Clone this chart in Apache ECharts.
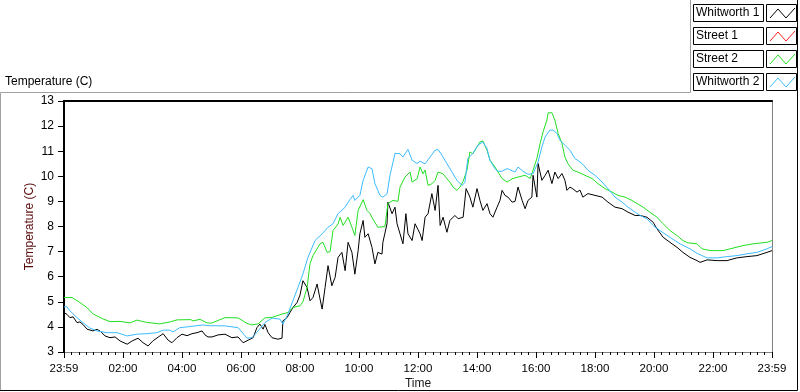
<!DOCTYPE html>
<html>
<head>
<meta charset="utf-8">
<script src="https://cdn.jsdelivr.net/npm/echarts@6/dist/echarts.min.js"></script>
<style>
html,body{margin:0;padding:0;background:#fff}
#chart{width:800px;height:392px}
</style>
</head>
<body>
<div id="chart"></div>
<script>
// hours after 23:59 -> temperature (C)
var seriesNames = ['Whitworth 1', 'Street 1', 'Street 2', 'Whitworth 2'];
var seriesColors = ['#000000', '#ff2020', '#22e022', '#3cbcff'];

var whitworth1 = [[0,4.57],[0.1,4.5],[0.2,4.37],[0.31,4.4],[0.44,4.17],[0.54,4.2],[0.64,4.1],[0.78,3.91],[0.98,3.84],[1.12,3.9],[1.22,3.84],[1.39,3.64],[1.56,3.57],[1.73,3.6],[1.9,3.44],[2.14,3.31],[2.31,3.44],[2.51,3.55],[2.68,3.37],[2.85,3.24],[3.02,3.45],[3.25,3.64],[3.36,3.73],[3.53,3.47],[3.66,3.37],[3.83,3.57],[4.0,3.71],[4.17,3.65],[4.34,3.73],[4.51,3.77],[4.68,3.84],[4.78,3.68],[4.88,3.6],[5.02,3.6],[5.22,3.68],[5.46,3.71],[5.69,3.57],[5.9,3.6],[6.07,3.37],[6.24,3.47],[6.41,3.57],[6.54,3.97],[6.64,4.11],[6.75,3.91],[6.81,4.1],[6.92,3.77],[7.05,3.57],[7.25,3.51],[7.39,3.55],[7.42,4.24],[7.56,4.37],[7.66,4.57],[7.76,4.77],[7.9,4.97],[8.0,5.27],[8.1,5.84],[8.24,5.57],[8.34,5.04],[8.44,5.17],[8.58,5.71],[8.68,5.11],[8.75,4.71],[8.85,5.57],[8.95,6.44],[9.08,5.64],[9.19,5.97],[9.29,6.77],[9.42,6.97],[9.53,6.24],[9.63,7.37],[9.76,6.97],[9.86,6.1],[9.97,7.04],[10.03,7.71],[10.14,8.24],[10.2,7.57],[10.31,7.71],[10.44,7.17],[10.54,6.51],[10.64,6.97],[10.78,6.9],[10.81,7.37],[10.95,8.11],[10.98,8.97],[11.12,8.51],[11.22,8.77],[11.29,8.11],[11.39,7.71],[11.49,7.31],[11.59,8.51],[11.66,7.71],[11.8,7.44],[11.9,8.11],[12.07,7.71],[12.14,7.44],[12.24,8.37],[12.34,8.51],[12.47,9.31],[12.58,8.64],[12.68,9.64],[12.75,8.04],[12.85,8.37],[12.98,7.77],[13.08,8.24],[13.25,8.44],[13.36,8.31],[13.53,8.37],[13.63,9.51],[13.76,9.17],[13.86,8.77],[14.0,9.51],[14.1,9.04],[14.2,8.64],[14.34,8.91],[14.44,8.51],[14.54,8.37],[14.68,8.77],[14.78,9.04],[14.85,9.44],[14.95,9.24],[15.05,9.17],[15.19,8.97],[15.29,9.0],[15.39,9.57],[15.53,9.04],[15.63,8.71],[15.73,9.04],[15.86,9.17],[15.9,10.04],[16.03,9.17],[16.07,10.51],[16.2,9.84],[16.31,10.04],[16.41,10.24],[16.54,9.71],[16.64,10.17],[16.75,9.91],[16.88,10.11],[16.98,9.84],[17.05,9.44],[17.15,9.57],[17.25,9.5],[17.39,9.37],[17.49,9.45],[17.59,9.17],[17.76,9.31],[18.0,9.24],[18.24,9.17],[18.44,8.97],[18.68,8.77],[18.92,8.71],[19.12,8.57],[19.36,8.44],[19.53,8.44],[19.76,8.37],[19.97,8.17],[20.1,7.91],[20.31,7.57],[20.54,7.37],[20.78,7.17],[20.98,6.97],[21.22,6.77],[21.46,6.64],[21.56,6.57],[21.8,6.67],[22.14,6.64],[22.47,6.64],[22.81,6.75],[23.15,6.8],[23.49,6.84],[23.83,6.97],[24,7.04]];

var street1 = [];

var street2 = [[0,5.17],[0.27,5.17],[0.54,4.97],[0.78,4.77],[0.98,4.52],[1.32,4.32],[1.56,4.21],[1.9,4.22],[2.24,4.16],[2.47,4.27],[2.58,4.24],[2.8,4.18],[3.25,4.12],[3.6,4.2],[3.83,4.28],[4.3,4.29],[4.37,4.24],[4.61,4.3],[4.85,4.16],[5.0,4.15],[5.46,4.37],[5.9,4.36],[6.2,4.14],[6.37,4.08],[6.58,4.12],[6.81,4.36],[7.05,4.38],[7.39,4.51],[7.59,4.57],[7.76,4.77],[8.0,4.84],[8.1,5.0],[8.24,5.57],[8.34,6.52],[8.44,6.84],[8.68,7.31],[8.78,7.37],[8.92,6.97],[9.02,7.0],[9.12,7.84],[9.29,8.1],[9.36,8.37],[9.46,8.04],[9.63,8.37],[9.76,7.97],[9.86,7.64],[9.97,8.64],[10.14,9.07],[10.27,8.64],[10.37,8.52],[10.47,8.3],[10.64,7.97],[10.88,8.0],[10.98,8.92],[11.15,9.04],[11.32,9.0],[11.39,9.57],[11.56,9.97],[11.73,10.17],[11.8,9.77],[11.97,9.9],[12.07,10.37],[12.17,10.1],[12.24,10.25],[12.34,9.64],[12.47,9.7],[12.58,9.84],[12.68,10.17],[12.85,10.1],[12.98,9.9],[13.08,9.77],[13.19,9.57],[13.32,9.44],[13.42,9.57],[13.53,9.8],[13.66,10.24],[13.76,10.97],[13.86,10.9],[14.0,11.17],[14.1,11.37],[14.2,11.41],[14.34,11.04],[14.44,10.64],[14.61,10.37],[14.85,9.91],[15.02,9.77],[15.19,9.9],[15.39,9.97],[15.63,10.04],[15.8,9.91],[15.9,10.24],[16.03,10.71],[16.14,11.31],[16.24,11.77],[16.37,12.24],[16.41,12.53],[16.54,12.53],[16.64,12.24],[16.75,11.71],[16.88,11.31],[16.98,10.77],[17.08,10.51],[17.25,10.24],[17.42,10.17],[17.66,10.04],[17.9,9.91],[18.1,9.71],[18.34,9.51],[18.58,9.37],[18.78,9.24],[19.02,9.17],[19.25,9.04],[19.63,8.77],[19.86,8.57],[20.1,8.37],[20.31,8.11],[20.54,7.84],[20.78,7.64],[20.98,7.44],[21.15,7.35],[21.46,7.31],[21.63,7.11],[21.9,7.04],[22.34,7.04],[22.58,7.11],[23.02,7.24],[23.36,7.31],[23.83,7.37],[24,7.44]];

var whitworth2 = [[0,4.8],[0.1,4.8],[0.2,4.64],[0.44,4.37],[0.64,4.17],[0.88,3.95],[1.12,3.84],[1.46,3.77],[1.8,3.77],[2.14,3.64],[2.47,3.71],[2.81,3.73],[3.15,3.77],[3.36,3.87],[3.59,3.87],[3.69,3.8],[3.93,3.97],[4.17,4.0],[4.37,4.03],[4.71,4.08],[4.88,4.05],[5.46,4.04],[5.9,3.97],[6.14,3.64],[6.2,3.55],[6.37,3.57],[6.58,3.84],[6.81,4.17],[7.05,4.35],[7.32,4.31],[7.42,4.11],[7.59,4.51],[7.76,5.04],[7.93,5.57],[8.1,6.11],[8.27,6.77],[8.51,7.44],[8.75,7.71],[8.95,7.97],[9.12,8.11],[9.29,8.51],[9.53,8.77],[9.69,9.07],[9.8,9.24],[9.86,9.04],[10.03,9.24],[10.14,9.84],[10.31,10.37],[10.44,10.3],[10.54,9.71],[10.71,9.24],[10.81,9.17],[10.95,9.3],[11.05,10.04],[11.22,10.91],[11.39,10.9],[11.49,10.77],[11.66,11.07],[11.8,10.64],[11.97,10.51],[12.07,10.6],[12.24,10.5],[12.41,10.77],[12.58,11.04],[12.68,11.07],[12.81,10.84],[12.98,10.51],[13.15,10.17],[13.32,9.84],[13.49,9.64],[13.59,9.75],[13.69,10.71],[13.86,10.91],[14.03,11.24],[14.2,11.37],[14.34,11.1],[14.44,10.64],[14.61,10.3],[14.71,10.2],[14.85,10.2],[15.02,10.31],[15.19,10.22],[15.29,10.17],[15.39,10.37],[15.56,10.2],[15.73,10.08],[15.9,10.1],[16.07,10.57],[16.2,11.17],[16.31,11.57],[16.47,11.84],[16.58,11.84],[16.71,11.71],[16.81,11.44],[16.98,11.24],[17.15,11.04],[17.32,10.71],[17.56,10.51],[17.76,10.24],[18.0,10.04],[18.24,9.77],[18.44,9.51],[18.68,9.17],[18.92,8.97],[19.12,8.77],[19.36,8.57],[19.53,8.44],[19.76,8.31],[19.97,8.04],[20.2,7.84],[20.54,7.57],[20.88,7.31],[21.22,7.11],[21.46,6.93],[21.8,6.75],[22.14,6.75],[22.47,6.8],[22.81,6.84],[23.15,6.91],[23.49,6.97],[23.83,7.11],[24,7.2]];

var seriesData = [whitworth1, street1, street2, whitworth2];

var FONT = '"Liberation Sans", Arial, sans-serif';

function timeLabel(v) {
    if (v === 0 || v === 24) return '23:59';
    return (v < 10 ? '0' : '') + v + ':00';
}

// LabVIEW style legend boxes, top right
function legendGraphics() {
    var items = [];
    seriesNames.forEach(function (name, i) {
        var top = 4 + i * 23;
        items.push({
            type: 'rect', shape: { x: 693.5, y: top + 0.5, width: 70, height: 17 },
            style: { fill: '#fff', stroke: '#000', lineWidth: 1 }
        });
        items.push({
            type: 'text', x: 696, y: top + 9,
            style: { text: name, fill: '#000', font: '12px ' + FONT, textVerticalAlign: 'middle' }
        });
        items.push({
            type: 'rect', shape: { x: 766.5, y: top + 0.5, width: 30, height: 17 },
            style: { fill: '#fff', stroke: '#000', lineWidth: 1 }
        });
        items.push({
            type: 'polyline',
            shape: { points: [[770, top + 14], [778, top + 5], [786, top + 14], [795, top + 4]] },
            style: { stroke: seriesColors[i], lineWidth: 1, fill: null }
        });
    });
    return items;
}

var frame = [
    { type: 'polyline', shape: { points: [[0.5, 391], [0.5, 92.5], [690.5, 92.5], [690.5, 0]] },
      style: { stroke: '#a0a0a0', lineWidth: 1, fill: null } },
    { type: 'polyline', shape: { points: [[0, 390.5], [797.5, 390.5], [797.5, 0]] },
      style: { stroke: '#000', lineWidth: 1, fill: null } },
    { type: 'text', x: 5, y: 82,
      style: { text: 'Temperature (C)', fill: '#000', font: '12px ' + FONT, textVerticalAlign: 'middle' } }
];

var chart = echarts.init(document.getElementById('chart'));

var option = {
    animation: false,
    backgroundColor: '#fff',
    grid: { left: 64, right: 28, top: 101, bottom: 40, containLabel: false, outerBoundsMode: 'none' },
    graphic: frame.concat(legendGraphics()),
    xAxis: [{
        type: 'value', min: 0, max: 24, interval: 2, position: 'bottom',
        name: 'Time', nameLocation: 'middle', nameGap: 26, nameMoveOverlap: false,
        nameTextStyle: { color: '#1a1a1a', fontSize: 12, fontFamily: FONT },
        axisLine: { show: true, onZero: false, lineStyle: { color: '#808080', width: 1 } },
        axisTick: { show: true, length: 6, lineStyle: { color: '#000' } },
        minorTick: { show: true, splitNumber: 8, length: 3, lineStyle: { color: '#000' } },
        axisLabel: { formatter: timeLabel, color: '#000', fontSize: 11.5, fontFamily: FONT, margin: 11, showMinLabel: true, showMaxLabel: true },
        splitLine: { show: false }
    }, {
        type: 'value', min: 0, max: 24, position: 'top',
        axisLine: { show: true, onZero: false, lineStyle: { color: '#000', width: 2 } },
        axisTick: { show: false }, axisLabel: { show: false }, splitLine: { show: false }
    }],
    yAxis: [{
        type: 'value', min: 3, max: 13, interval: 1, position: 'left',
        name: 'Temperature (C)', nameLocation: 'middle', nameGap: 28, nameMoveOverlap: false,
        nameTextStyle: { color: '#5a0a0a', fontSize: 12, fontFamily: FONT },
        axisLine: { show: true, onZero: false, lineStyle: { color: '#000', width: 2 } },
        axisTick: { show: true, length: 6, lineStyle: { color: '#000' } },
        axisLabel: { color: '#000', fontSize: 12, fontFamily: FONT, margin: 10 },
        splitLine: { show: false }
    }, {
        type: 'value', min: 3, max: 13, position: 'right',
        axisLine: { show: true, onZero: false, lineStyle: { color: '#808080', width: 1 } },
        axisTick: { show: false }, axisLabel: { show: false }, splitLine: { show: false }
    }],
    series: seriesNames.map(function (name, i) {
        return {
            name: name, type: 'line', data: seriesData[i],
            xAxisIndex: 0, yAxisIndex: 0,
            showSymbol: false, symbol: 'none',
            lineStyle: { color: seriesColors[i], width: 1 },
            itemStyle: { color: seriesColors[i] }
        };
    })
};

chart.setOption(option);
</script>
</body>
</html>
